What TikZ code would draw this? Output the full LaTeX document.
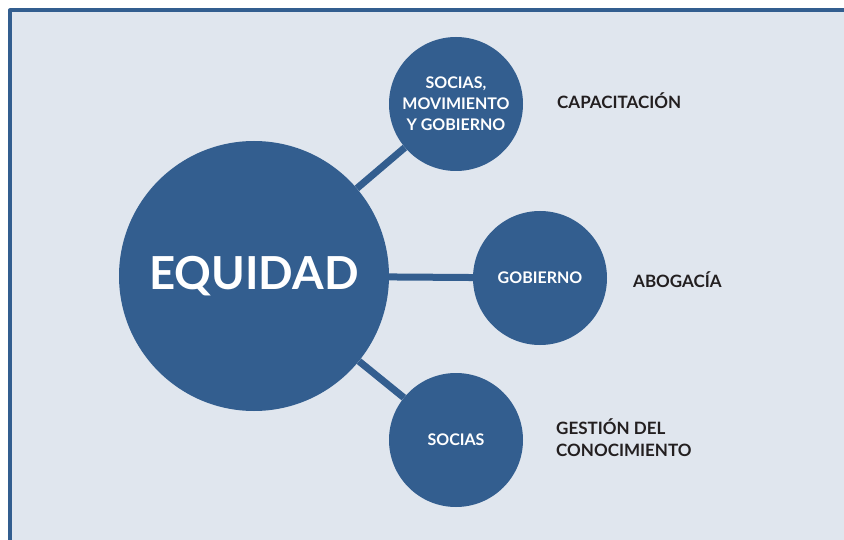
\documentclass[tikz,border=0pt]{standalone}
\usepackage{fontspec}
\setmainfont{Lato}
\usetikzlibrary{calc}
\definecolor{panel}{HTML}{E0E6EE}
\definecolor{navy}{HTML}{335E8F}
\definecolor{ink}{HTML}{231F20}
\def\rbig{135}
\def\rsmall{67}

\begin{document}
\begin{tikzpicture}[x=1pt, y=-1pt, line cap = round, line join = round,
		hub/.style = {circle, fill=navy, text=white, inner sep=0pt, minimum size=2*\rbig pt, font=\fontsize{45.5}{50}\selectfont\bfseries},
		spoke/.style = {circle, fill=navy, text=white, inner sep=0pt, minimum size=2*\rsmall pt, align=center, font=\fontsize{16}{21}\selectfont\bfseries},
		tag/.style = {anchor=west, text=ink, align=left, inner sep=0pt, font=\fontsize{17}{22}\selectfont\bfseries},
		link/.style = {navy, line width=7pt, line cap=butt}]
		\useasboundingbox (0,0) rectangle (844,540);
		
		% Panel
		\fill[panel] (10,10.5) rectangle (844,540);
		\draw[navy, line width=4pt, line cap=butt] (10,540) -- (10,10.5) -- (844,10.5);
		
		% Circles
		\node[hub] (equidad) at (254,276) {EQUIDAD};
		\node[spoke] (top) at (456,104) {SOCIAS,\\MOVIMIENTO\\Y GOBIERNO};
		\node[spoke] (mid) at (540,278) {GOBIERNO};
		\node[spoke] (bot) at (456,440) {SOCIAS};
		
		% Connectors
		\draw[link] (equidad) -- (top);
		\draw[link] (equidad) -- (mid);
		\draw[link] (equidad) -- (bot);
		
		% Labels
		\node[tag] (capa) at (557,101) {CAPACITACIÓN};
		\node[tag] (abog) at (633,280) {ABOGACÍA};
		\node[tag] (gest) at (556,438) {GESTIÓN DEL\\CONOCIMIENTO};
\end{tikzpicture}
\end{document}
